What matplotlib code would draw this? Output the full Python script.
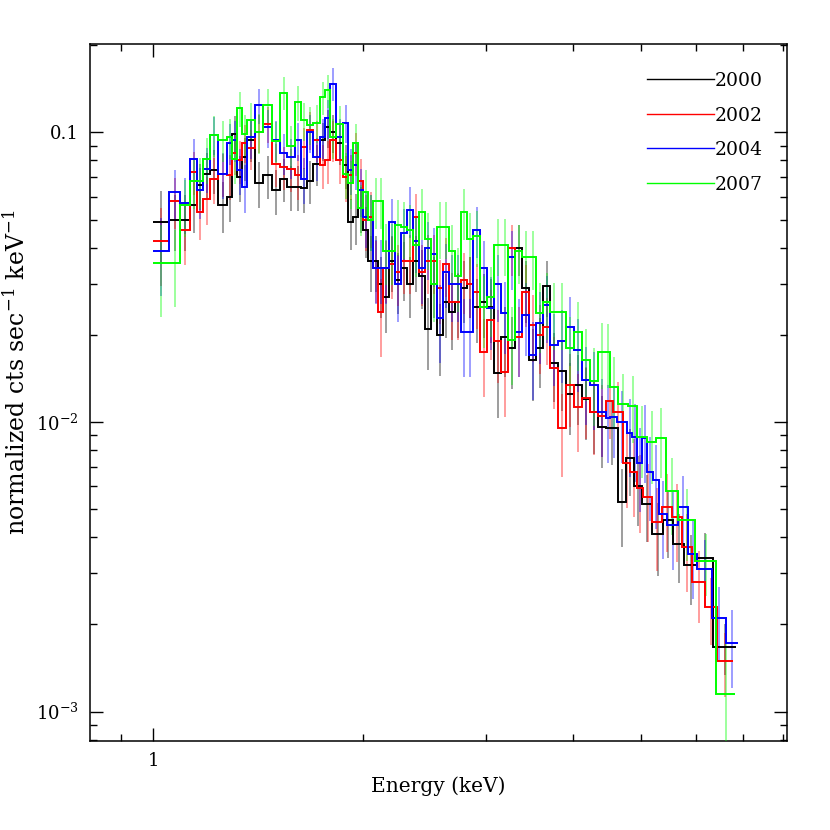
import matplotlib
matplotlib.use("Agg")
import matplotlib.pyplot as plt
from matplotlib.lines import Line2D
from matplotlib.ticker import FixedLocator, LogLocator, NullFormatter, FixedFormatter

plt.rcParams['font.family'] = ['DejaVu Serif']
plt.rcParams['mathtext.fontset'] = 'dejavuserif'

years = ['2000', '2002', '2004', '2007']
colors = ['#000000', '#ff0000', '#0000ff', '#00ff00']

# shared channel-group boundaries (keV) below 4.46 keV
edges_common = [1.000, 1.054, 1.093, 1.130, 1.156, 1.180, 1.207, 1.239, 1.277, 1.298,
                1.320, 1.341, 1.364, 1.400, 1.438, 1.481, 1.521, 1.556, 1.597, 1.630,
                1.663, 1.696, 1.735, 1.764, 1.793, 1.829, 1.872, 1.903, 1.935, 1.967,
                2.000, 2.033, 2.067, 2.101, 2.136, 2.179, 2.223, 2.267, 2.312, 2.358,
                2.406, 2.454, 2.503, 2.553, 2.604, 2.656, 2.709, 2.763, 2.818, 2.875,
                2.942, 3.011, 3.082, 3.154, 3.228, 3.303, 3.381, 3.459, 3.540, 3.622,
                3.707, 3.806, 3.908, 4.012, 4.120, 4.230, 4.344, 4.460]

# high-energy group boundaries per observation (keV)
tail_2000 = [4.640, 4.764, 4.892, 5.022, 5.191, 5.382, 5.565, 5.769, 6.022, 6.347, 6.847]
tail_2002 = [4.563, 4.716, 4.828, 4.940, 5.039, 5.191, 5.364, 5.546, 5.732, 5.923, 6.183,
             6.433, 6.781]
tail_2004 = [4.519, 4.624, 4.779, 4.860, 4.940, 5.022, 5.105, 5.207, 5.311, 5.453, 5.656,
             5.846, 6.022, 6.326, 6.627, 6.894]
tail_2007 = [4.519, 4.640, 4.796, 4.940, 5.105, 5.260, 5.436, 5.656, 5.981, 6.412, 6.826]

# normalized counts s^-1 keV^-1
flux_2000 = [0.049, 0.050, 0.050, 0.056, 0.066, 0.072, 0.074, 0.056, 0.060, 0.099,
             0.070, 0.082, 0.094, 0.067, 0.071, 0.063, 0.069, 0.065, 0.065, 0.064,
             0.068, 0.078, 0.094, 0.104, 0.100, 0.092, 0.077, 0.049, 0.051, 0.055,
             0.046, 0.036, 0.036, 0.030, 0.027, 0.036, 0.031, 0.034, 0.030, 0.036,
             0.032, 0.021, 0.030, 0.020, 0.026, 0.024, 0.026, 0.029, 0.030, 0.025,
             0.026, 0.025, 0.0148, 0.0196, 0.018, 0.040, 0.029, 0.0164, 0.018, 0.0295,
             0.016, 0.015, 0.0125, 0.0134, 0.012, 0.0108, 0.0096,
             0.0095, 0.0053, 0.0075, 0.0060, 0.0052, 0.0041, 0.0046, 0.0038, 0.0032, 0.0034,
             0.00167]
flux_2002 = [0.042, 0.058, 0.046, 0.073, 0.053, 0.059, 0.069, 0.072, 0.071, 0.085,
             0.080, 0.092, 0.088, 0.100, 0.107, 0.078, 0.076, 0.075, 0.071, 0.089,
             0.102, 0.094, 0.077, 0.080, 0.094, 0.080, 0.070, 0.071, 0.085, 0.068,
             0.050, 0.051, 0.034, 0.024, 0.034, 0.035, 0.033, 0.036, 0.036, 0.051,
             0.033, 0.036, 0.036, 0.029, 0.035, 0.026, 0.026, 0.031, 0.030, 0.028,
             0.0174, 0.0225, 0.019, 0.0149, 0.040, 0.0196, 0.028, 0.0217, 0.020, 0.0213,
             0.0154, 0.0095, 0.0134, 0.0113, 0.0121, 0.0108, 0.0105,
             0.0118, 0.0108, 0.0072, 0.0067, 0.0059, 0.0055, 0.0045, 0.0051, 0.0047, 0.0037,
             0.0028, 0.0023, 0.0015]
flux_2004 = [0.039, 0.062, 0.057, 0.081, 0.063, 0.075, 0.098, 0.072, 0.092, 0.094,
             0.074, 0.065, 0.096, 0.124, 0.104, 0.094, 0.085, 0.082, 0.094, 0.069,
             0.100, 0.082, 0.096, 0.112, 0.147, 0.096, 0.108, 0.074, 0.077, 0.063,
             0.051, 0.050, 0.034, 0.034, 0.034, 0.049, 0.030, 0.045, 0.054, 0.042,
             0.034, 0.040, 0.038, 0.0228, 0.033, 0.030, 0.030, 0.0205, 0.0205, 0.046,
             0.034, 0.0247, 0.030, 0.0238, 0.037, 0.0205, 0.0235, 0.0170, 0.022, 0.0254,
             0.0185, 0.019, 0.0213, 0.0177, 0.014, 0.0134, 0.0108,
             0.0103, 0.0104, 0.0100, 0.0092, 0.0089, 0.0072, 0.0088, 0.0067, 0.0063, 0.0048,
             0.0044, 0.0051, 0.0035, 0.0031, 0.0021, 0.00173]
flux_2007 = [0.0355, 0.0355, 0.056, 0.068, 0.068, 0.081, 0.098, 0.094, 0.096, 0.081,
             0.121, 0.099, 0.110, 0.100, 0.124, 0.093, 0.137, 0.090, 0.127, 0.110,
             0.106, 0.108, 0.132, 0.140, 0.096, 0.107, 0.072, 0.067, 0.092, 0.055,
             0.062, 0.050, 0.058, 0.058, 0.039, 0.039, 0.048, 0.047, 0.046, 0.041,
             0.053, 0.043, 0.030, 0.047, 0.047, 0.039, 0.032, 0.053, 0.043, 0.044,
             0.025, 0.027, 0.041, 0.041, 0.0192, 0.039, 0.037, 0.037, 0.0238, 0.026,
             0.024, 0.024, 0.018, 0.0205, 0.0164, 0.0138, 0.0175,
             0.0175, 0.0132, 0.0115, 0.0114, 0.0089, 0.0085, 0.0088, 0.0058, 0.0046, 0.0033,
             0.00115]

# fractional 1-sigma errors
err_2000 = [0.28, 0.22, 0.22, 0.20, 0.18, 0.18, 0.17, 0.20, 0.18, 0.15,
            0.18, 0.17, 0.16, 0.18, 0.17, 0.18, 0.17, 0.18, 0.18, 0.18,
            0.17, 0.16, 0.15, 0.15, 0.15, 0.16, 0.17, 0.20, 0.20, 0.18,
            0.20, 0.22, 0.22, 0.24, 0.25, 0.22, 0.24, 0.23, 0.24, 0.22,
            0.23, 0.28, 0.24, 0.28, 0.25, 0.26, 0.25, 0.24, 0.24, 0.25,
            0.25, 0.25, 0.30, 0.27, 0.28, 0.20, 0.24, 0.28, 0.27, 0.22,
            0.27, 0.27, 0.28, 0.27, 0.28, 0.28, 0.28,
            0.25, 0.30, 0.26, 0.27, 0.26, 0.28, 0.26, 0.27, 0.27, 0.22, 0.20]
err_2002 = [0.30, 0.20, 0.24, 0.17, 0.20, 0.19, 0.18, 0.17, 0.18, 0.16,
            0.17, 0.15, 0.16, 0.15, 0.14, 0.17, 0.17, 0.17, 0.18, 0.16,
            0.15, 0.16, 0.17, 0.17, 0.16, 0.17, 0.18, 0.18, 0.17, 0.19,
            0.22, 0.22, 0.24, 0.30, 0.24, 0.24, 0.24, 0.23, 0.23, 0.20,
            0.24, 0.23, 0.23, 0.25, 0.23, 0.26, 0.26, 0.24, 0.24, 0.25,
            0.30, 0.27, 0.28, 0.30, 0.20, 0.27, 0.24, 0.26, 0.27, 0.26,
            0.28, 0.32, 0.28, 0.30, 0.28, 0.29, 0.28,
            0.26, 0.27, 0.30, 0.30, 0.30, 0.30, 0.32, 0.30, 0.30, 0.30, 0.28, 0.26, 0.25]
err_2004 = [0.30, 0.20, 0.22, 0.17, 0.20, 0.18, 0.15, 0.18, 0.16, 0.16,
            0.18, 0.19, 0.16, 0.14, 0.15, 0.16, 0.16, 0.16, 0.15, 0.18,
            0.15, 0.17, 0.16, 0.15, 0.13, 0.16, 0.15, 0.18, 0.18, 0.19,
            0.22, 0.22, 0.25, 0.25, 0.25, 0.20, 0.26, 0.21, 0.20, 0.22,
            0.25, 0.23, 0.23, 0.30, 0.25, 0.26, 0.26, 0.30, 0.30, 0.20,
            0.24, 0.28, 0.26, 0.28, 0.23, 0.30, 0.28, 0.30, 0.28, 0.26,
            0.28, 0.28, 0.27, 0.28, 0.30, 0.30, 0.30,
            0.30, 0.28, 0.28, 0.30, 0.30, 0.32, 0.30, 0.32, 0.32, 0.30, 0.30, 0.28, 0.30,
            0.26, 0.28, 0.30]
err_2007 = [0.35, 0.30, 0.22, 0.20, 0.20, 0.18, 0.16, 0.16, 0.16, 0.18,
            0.14, 0.16, 0.15, 0.16, 0.14, 0.17, 0.13, 0.17, 0.14, 0.15,
            0.15, 0.15, 0.13, 0.13, 0.16, 0.15, 0.18, 0.19, 0.16, 0.20,
            0.20, 0.22, 0.20, 0.20, 0.24, 0.24, 0.22, 0.22, 0.22, 0.23,
            0.20, 0.22, 0.26, 0.22, 0.22, 0.23, 0.25, 0.20, 0.22, 0.22,
            0.28, 0.27, 0.22, 0.22, 0.30, 0.23, 0.23, 0.23, 0.27, 0.26,
            0.26, 0.26, 0.28, 0.27, 0.28, 0.30, 0.26,
            0.25, 0.27, 0.27, 0.26, 0.28, 0.28, 0.27, 0.30, 0.28, 0.24, 0.50]

series = [
    (edges_common + tail_2000, flux_2000, err_2000),
    (edges_common + tail_2002, flux_2002, err_2002),
    (edges_common + tail_2004, flux_2004, err_2004),
    (edges_common + tail_2007, flux_2007, err_2007),
]

fig = plt.figure(figsize=(8.3, 8.3), dpi=100)
ax = fig.add_axes([0.1084, 0.1072, 0.8398, 0.8394])
ax.set_xscale('log')
ax.set_yscale('log')

for i, ((edges, flux, err), col) in enumerate(zip(series, colors)):
    centers = [0.5 * (edges[k] + edges[k + 1]) for k in range(len(flux))]
    lo = [f * (1 - e) for f, e in zip(flux, err)]
    hi = [f * (1 + e) for f, e in zip(flux, err)]
    ax.vlines(centers, lo, hi, colors=col, alpha=0.45, lw=1.2, zorder=1 + i)
    ax.stairs(flux, edges, baseline=None, color=col, lw=1.4, zorder=5 + i)

ax.set_xlim(0.812, 8.1)
ax.set_ylim(7.92e-4, 0.2013)

ax.xaxis.set_major_locator(FixedLocator([1.0]))
ax.xaxis.set_major_formatter(FixedFormatter(['1']))
ax.xaxis.set_minor_locator(FixedLocator([0.9, 2, 3, 4, 5, 6, 7, 8]))
ax.xaxis.set_minor_formatter(NullFormatter())

ax.yaxis.set_major_locator(FixedLocator([1e-3, 1e-2, 0.1]))
ax.yaxis.set_major_formatter(FixedFormatter(['$10^{-3}$', '$10^{-2}$', '0.1']))
ax.yaxis.set_minor_locator(LogLocator(base=10, subs=(2, 3, 4, 5, 6, 7, 8, 9)))
ax.yaxis.set_minor_formatter(NullFormatter())

ax.tick_params(which='both', direction='in', top=True, right=True, width=1.0)
ax.tick_params(which='major', length=9.5, labelsize=13, pad=8)
ax.tick_params(which='minor', length=4.7)
for s in ax.spines.values():
    s.set_linewidth(1.1)

ax.set_xlabel('Energy (keV)', fontsize=14.5)
ax.xaxis.set_label_coords(0.5, -0.051)
ax.xaxis.label.set_va('top')
ax.set_ylabel('normalized cts sec$^{-1}$ keV$^{-1}$', fontsize=17)
ax.yaxis.set_label_coords(-0.087, 0.53)

handles = [Line2D([], [], color=c, lw=1.0) for c in colors]
ax.legend(handles, years, loc='upper left', bbox_to_anchor=((647 - 90) / 697, 1 - (72 - 44.3) / 697),
          frameon=False, handlelength=3.6, handletextpad=0.0, labelspacing=0.88,
          borderpad=0, borderaxespad=0, fontsize=13.5)

fig.savefig('out.png', dpi=100)
